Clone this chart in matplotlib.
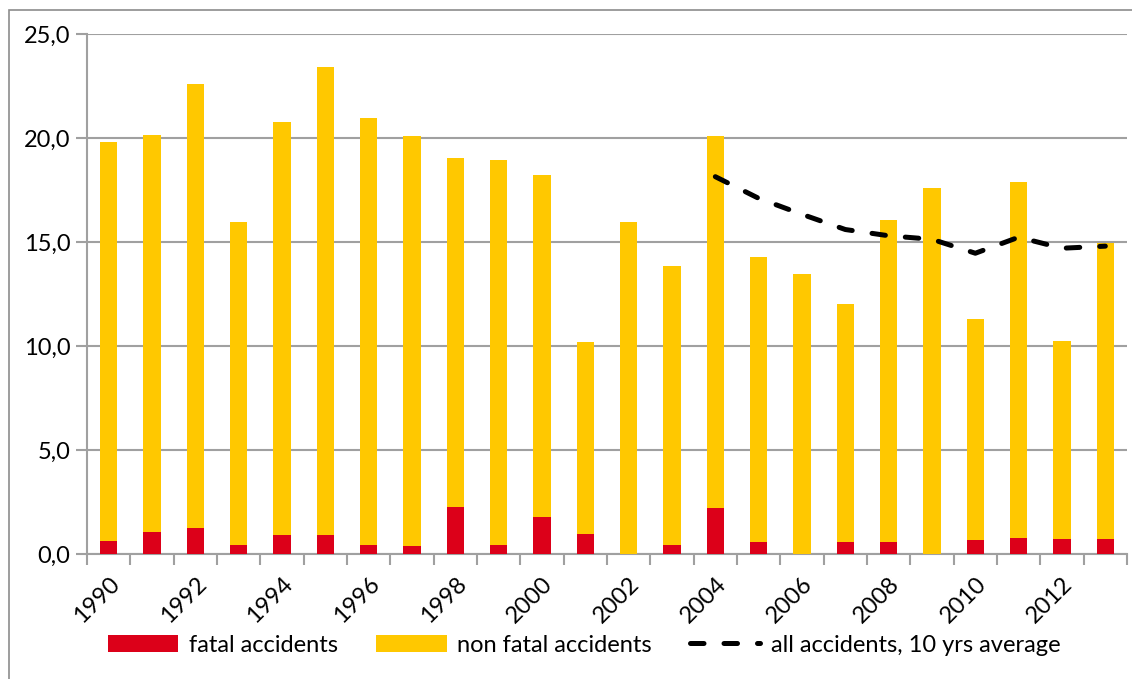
import numpy as np
import matplotlib.pyplot as plt
from matplotlib.patches import Rectangle

# Data
years = np.arange(1990, 2014)
total = [19.8, 20.15, 22.6, 15.96, 20.77, 23.4, 20.96, 20.1, 19.05, 18.94, 18.22, 10.17,
         15.96, 13.86, 20.1, 14.3, 13.45, 12.03, 16.06, 17.61, 11.31, 17.88, 10.23, 14.94]
fatal = [0.61, 1.04, 1.23, 0.45, 0.89, 0.89, 0.42, 0.38, 2.24, 0.42, 1.76, 0.94,
         0.0, 0.45, 2.2, 0.58, 0.0, 0.58, 0.58, 0.0, 0.69, 0.75, 0.70, 0.73]
avg_years = np.arange(2004, 2014)
avg10 = [18.14, 17.1, 16.33, 15.6, 15.3, 15.13, 14.46, 15.23, 14.7, 14.8]

non_fatal = np.array(total) - np.array(fatal)

red = "#DC0019"
yellow = "#FFC800"
grid_col = "#A0A0A0"
fs = 17

plt.rcParams['font.family'] = ['Lato', 'DejaVu Sans']

fig = plt.figure(figsize=(11.32, 6.79), dpi=100)
ax = fig.add_axes([87/1132, 1-554/679, (1127-87)/1132, (554-34)/679])

x = np.arange(len(years))
b1 = ax.bar(x, fatal, width=0.4, color=red, label="fatal accidents", zorder=3)
b2 = ax.bar(x, non_fatal, width=0.4, bottom=fatal, color=yellow, label="non fatal accidents", zorder=3)
xa = avg_years - years[0]
ln, = ax.plot(xa, avg10, color="black", lw=3.6, dashes=(2.7, 4.0), dash_capstyle="round",
              label="all accidents, 10 yrs average", zorder=4)

ax.set_xlim(-0.5, len(years) - 0.5)
ax.set_ylim(0, 25)
ax.set_yticks(np.arange(0, 26, 5))
ax.set_yticklabels([f"{v:.1f}".replace(".", ",") for v in np.arange(0, 26, 5)], fontsize=fs)
ax.grid(axis="y", color=grid_col, lw=1.5, zorder=0)
ax.tick_params(axis="y", length=8, color=grid_col, width=1.5, pad=4)

# ticks at category boundaries, labels on even years
ax.set_xticks(np.arange(-0.5, len(years), 1))
ax.set_xticklabels([])
ax.tick_params(axis="x", which="major", length=8, color=grid_col, width=1.5)
ax.set_xticks(x[::2], minor=True)
ax.set_xticklabels([str(y) for y in years[::2]], minor=True, rotation=45,
                   ha="right", va="top", rotation_mode="anchor", fontsize=fs)
ax.tick_params(axis="x", which="minor", length=0, pad=14)

for s in ["top", "right"]:
    ax.spines[s].set_visible(False)
for s in ["left", "bottom"]:
    ax.spines[s].set_color(grid_col)
    ax.spines[s].set_linewidth(1.5)

fig.legend(handles=[b1, b2, ln], loc="center", bbox_to_anchor=(0.516, 1-645/679), ncol=3,
           frameon=False, fontsize=fs, handlelength=3.0, handleheight=0.7, handletextpad=0.45,
           columnspacing=1.6)

# outer chart frame
fig.patches.append(Rectangle((9/1132, -0.05), 1.1, 1-10/679+0.05, transform=fig.transFigure,
                             fill=False, edgecolor="#8C8C8C", lw=1.2))

fig.savefig("out.png", dpi=100)
